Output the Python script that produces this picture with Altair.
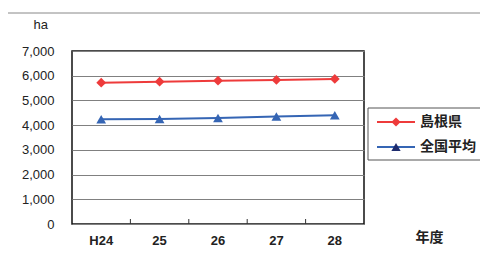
import altair as alt
import pandas as pd

years = ["H24", "25", "26", "27", "28"]
series_names = ["島根県", "全国平均"]
shimane = [5720, 5760, 5800, 5830, 5870]
national = [4240, 4250, 4290, 4350, 4400]
y_ticks = [0, 1000, 2000, 3000, 4000, 5000, 6000, 7000]

line_colors = ["#EE3B3B", "#3565B4"]
marker_colors = ["#EE3B3B", "#1E2C6E"]
shapes = ["diamond", "triangle-up"]

rows = []
for name, vals in zip(series_names, [shimane, national]):
    for yr, v in zip(years, vals):
        rows.append({"year": yr, "series": name, "value": v})
df = pd.DataFrame(rows)

FONT = "Liberation Sans"
JFONT = "Noto Sans CJK JP"

xenc = alt.X("year:N", sort=years, bandPosition=0.5,
             scale=alt.Scale(type="band", paddingInner=0, paddingOuter=0),
             axis=alt.Axis(title="年度", labelFont=FONT, labelFontSize=13, labelFontWeight="bold",
                           labelColor="#222", labelAngle=0, labelPadding=10, ticks=False, domain=False,
                           titleFont=JFONT, titleFontSize=14, titleFontWeight="bold", titleColor="#222",
                           titleX=343, titleY=13, titleAlign="left", titleBaseline="middle"))
yenc = alt.Y("value:Q", scale=alt.Scale(domain=[0, 7000], nice=False),
             axis=alt.Axis(values=y_ticks, format=",.0f", title="ha", titleAngle=0, titleX=-39, titleY=-27,
                           titleAlign="left", titleBaseline="middle", titleFont=FONT, titleFontSize=13,
                           titleFontWeight="normal", titleColor="#222",
                           labelFont=FONT, labelFontSize=13, labelColor="#222", labelPadding=18,
                           ticks=False, domain=False, grid=True, gridColor="#808080", gridWidth=1))

base = alt.Chart(df)
lines = base.mark_line(strokeWidth=2).encode(
    x=xenc, y=yenc,
    color=alt.Color("series:N", scale=alt.Scale(domain=series_names, range=line_colors), legend=None))
points = base.mark_point(filled=True, opacity=1, size=95).encode(
    x=xenc, y=yenc,
    color=alt.Color("series:N", scale=alt.Scale(domain=series_names, range=marker_colors), legend=None),
    shape=alt.Shape("series:N", scale=alt.Scale(domain=series_names, range=shapes), legend=None))

tick_df = pd.DataFrame({"year": years[1:]})
ticks = alt.Chart(tick_df).mark_rule(color="#333", strokeWidth=1).encode(
    x=alt.X("year:N", sort=years, bandPosition=0), y=alt.value(173), y2=alt.value(168))

frame_top = alt.Chart(pd.DataFrame({"a": [0]})).mark_rule(color="#888", strokeWidth=1).encode(
    x=alt.value(-64), x2=alt.value(420), y=alt.value(-38))

leg_box = alt.Chart(pd.DataFrame({"a": [0]})).mark_rect(fill="white", stroke="#555", strokeWidth=1).encode(
    x=alt.value(296), x2=alt.value(413), y=alt.value(57), y2=alt.value(109))

legend_layers = [leg_box]
for i, name in enumerate(series_names):
    ly = 71 + 25 * i
    d = pd.DataFrame({"series": [name]})
    legend_layers.append(alt.Chart(d).mark_rule(color=line_colors[i], strokeWidth=2).encode(
        x=alt.value(305), x2=alt.value(343), y=alt.value(ly)))
    legend_layers.append(alt.Chart(d).mark_point(filled=True, opacity=1, size=85, shape=shapes[i],
                                                 color=marker_colors[i]).encode(
        x=alt.value(324), y=alt.value(ly)))
    legend_layers.append(alt.Chart(d).mark_text(align="left", baseline="middle", font=JFONT, fontSize=14,
                                                fontWeight="bold", color="#222").encode(
        x=alt.value(348), y=alt.value(ly), text="series:N"))

chart = alt.layer(frame_top, lines, points, ticks, *legend_layers).properties(
    width=292, height=173,
    padding={"left": 64, "top": 43, "right": 116, "bottom": 31},
    autosize=alt.AutoSizeParams(type="none"),
    background="white",
).configure_view(stroke="#111", strokeWidth=1.5)

chart.save("out.html", embed_options={"renderer": "svg", "actions": False})
